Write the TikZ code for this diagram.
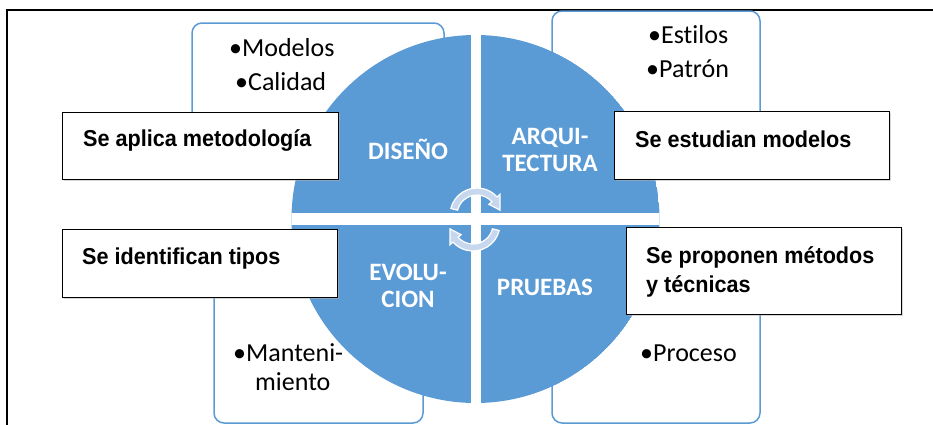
\documentclass[tikz,border=0pt]{standalone}
\usepackage{fontspec}
\setmainfont[Ligatures=NoCommon]{Carlito}
\newfontfamily\notefont[FakeStretch=0.94]{Liberation Sans}
\usetikzlibrary{positioning, shadows}

\definecolor{cycleblue}{HTML}{5B9BD5}
\definecolor{turnblue}{HTML}{C7D7EE}

\begin{document}
\begin{tikzpicture}[x=1pt, y=-1pt,
        petal/.style={draw=cycleblue, line width=1.5pt, rounded corners=10pt, fill=white},
        sector/.style={font=\fontsize{25}{27}\selectfont\bfseries, text=white, align=center, inner sep=0pt},
        item/.style={font=\fontsize{26}{32}\selectfont, anchor=base west, inner sep=0pt},
        notebox/.style={draw, line width=1.4pt, fill=white, inner sep=0pt, anchor=north west,
            drop shadow={shadow xshift=1pt, shadow yshift=-1.5pt, fill=black!30}},
        note/.style={font=\notefont\bfseries\fontsize{23}{29}\selectfont, anchor=base west, inner sep=0pt},
        turn/.style={fill=turnblue, draw=white, line width=1.2pt}]
        \useasboundingbox (0,0) rectangle (933,424);
        \clip (0,0) rectangle (933,424);

        % frame
        \draw[line width=1.6pt] (7,10) rectangle (960,450);

        % corner boxes
        \draw[petal] (192,23) rectangle (444,170);
        \draw[petal] (552,11) rectangle (760,170);
        \draw[petal] (214,240) rectangle (423,423);
        \draw[petal] (552,240) rectangle (760,423);

        % the circle in four parts
        \begin{scope}
            \clip (475.5,219) circle[radius=184];
            \fill[cycleblue] (475.5,219) circle[radius=184];
            \fill[white] (470.5,0) rectangle (480.5,424);
            \fill[white] (280,213) rectangle (670,225);
        \end{scope}

        \node[sector] (diseno) at (408,149) {DISEÑO};
        \node[sector] (arqui) at (550,150) {ARQUI-\\TECTURA};
        \node[sector] (evolu) at (408,286) {EVOLU-\\CION};
        \node[sector] (pruebas) at (545,287) {PRUEBAS};

        % turning arrows
        \begin{scope}[shift={(477,215)}]
            \filldraw[turn] (194:20) -- (194:27) arc[start angle=194, end angle=318, radius=27]
                -- (318:31) -- (348:23.5) -- (318:16) -- (318:20)
                arc[start angle=318, end angle=194, radius=20] -- cycle;
        \end{scope}
        \begin{scope}[shift={(473,224)}]
            \filldraw[turn] (14:20) -- (14:27) arc[start angle=14, end angle=138, radius=27]
                -- (138:31) -- (168:23.5) -- (138:16) -- (138:20)
                arc[start angle=138, end angle=14, radius=20] -- cycle;
        \end{scope}

        % items
        \node[item] (modelos) at (229,56) {•Modelos};
        \node[item] (calidad) at (235,90) {•Calidad};
        \node[item] (estilos) at (648,43) {•Estilos};
        \node[item] (patron) at (646,77) {•Patrón};
        \node[item] (manteni) at (233,361) {•Manteni-};
        \node[item] (miento) at (255,390) {miento};
        \node[item] (proceso) at (640,361) {•Proceso};

        % notes
        \node[notebox, minimum width=276pt, minimum height=67pt] (aplicabox) at (62,112) {};
        \node[note] (aplica) at (83,146) {Se aplica metodología};
        \node[notebox, minimum width=275pt, minimum height=68pt] (estudianbox) at (614,111) {};
        \node[note] (estudian) at (635,147) {Se estudian modelos};
        \node[notebox, minimum width=275pt, minimum height=68pt] (identificanbox) at (62,229) {};
        \node[note] (identifican) at (82,264) {Se identifican tipos};
        \node[notebox, minimum width=275pt, minimum height=87pt] (proponenbox) at (626,227) {};
        \node[note] (proponen) at (646,263) {Se proponen métodos};
        \node[note] (tecnicas) at (646,292) {y técnicas};
\end{tikzpicture}
\end{document}
